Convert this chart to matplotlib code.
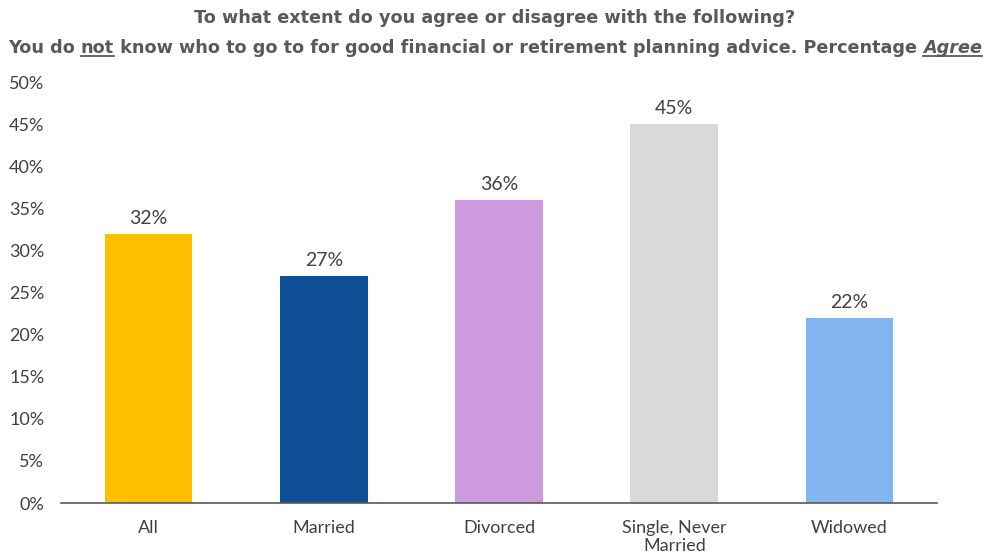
import matplotlib.pyplot as plt
from matplotlib.ticker import PercentFormatter

categories = ["All", "Married", "Divorced", "Single, Never\nMarried", "Widowed"]
values = [32, 27, 36, 45, 22]
colors = ["#FFC000", "#0F4F96", "#CE9ADE", "#D9D9D9", "#82B5F0"]

plt.rcParams['font.family'] = ['Lato', 'DejaVu Sans']
text_col = "#404040"
title_col = "#595959"

fig = plt.figure(figsize=(9.9, 5.56), dpi=100)
ax = fig.add_axes([0.0616, 0.0953, 0.885, 0.757])

x = range(len(categories))
ax.bar(x, values, width=0.5, color=colors)
for i, v in zip(x, values):
    ax.text(i, v + 0.8, f"{v}%", ha="center", va="bottom", fontsize=14, color=text_col)

ax.set_xlim(-0.5, len(categories) - 0.5)
ax.set_ylim(0, 50)
ax.set_yticks(range(0, 51, 5))
ax.yaxis.set_major_formatter(PercentFormatter(decimals=0))
ax.set_xticks(list(x))
ax.set_xticklabels(categories, fontsize=13, color=text_col, linespacing=1.2)
ax.tick_params(axis="y", length=0, labelsize=13, labelcolor=text_col, pad=12)
ax.tick_params(axis="x", length=0, pad=12)
for s in ["top", "right", "left"]:
    ax.spines[s].set_visible(False)
ax.spines["bottom"].set_color("#595959")
ax.spines["bottom"].set_linewidth(1.2)

# title, two lines, with underlined words
tfont = ['DejaVu Sans']
fig.text(0.5, 0.967, "To what extent do you agree or disagree with the following?",
         ha="center", va="center", fontsize=12.7, fontweight="bold", color=title_col, family=tfont)

pieces = [("You do ", False, False), ("not", True, False),
          (" know who to go to for good financial or retirement planning advice. Percentage ", False, False),
          ("Agree", True, True)]
renderer = fig.canvas.get_renderer()
y2 = 0.905
texts = []
for s, ul, it in pieces:
    t = fig.text(0, y2, s, ha="left", va="baseline", fontsize=12.7, fontweight="bold",
                 color=title_col, style="italic" if it else "normal", family=tfont)
    texts.append((t, ul))
widths = [t.get_window_extent(renderer).width for t, _ in texts]
total = sum(widths)
xpos = (fig.bbox.width - total) / 2
for (t, ul), w in zip(texts, widths):
    t.set_x(xpos / fig.bbox.width)
    if ul:
        yl = y2 - 3.5 / fig.bbox.height
        fig.add_artist(plt.Line2D([xpos / fig.bbox.width, (xpos + w) / fig.bbox.width], [yl, yl],
                                  color=title_col, linewidth=1.3, transform=fig.transFigure))
    xpos += w

fig.savefig("out.png", dpi=100)
